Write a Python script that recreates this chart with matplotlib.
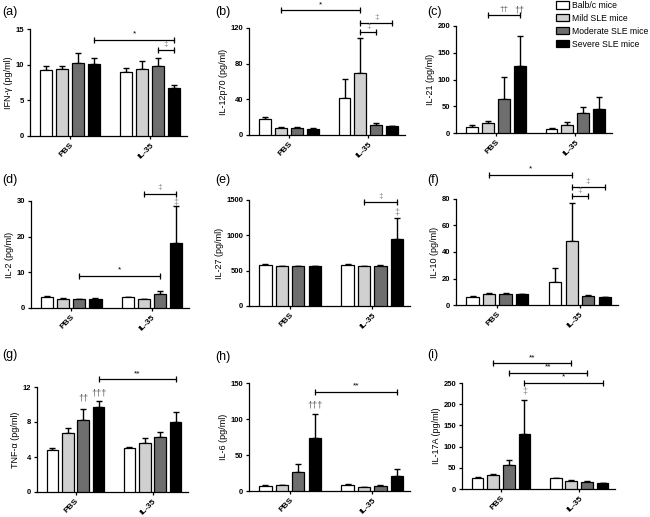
import matplotlib
matplotlib.use("Agg")
import matplotlib.pyplot as plt
from matplotlib.patches import Patch

plt.rcParams['font.family'] = ['Liberation Sans', 'DejaVu Sans']

groups = ['PBS', 'IL-35']
mice = ['Balb/c mice', 'Mild SLE mice', 'Moderate SLE mice', 'Severe SLE mice']
colors = ['white', '#d0d0d0', '#6e6e6e', 'black']

# means (PBS row, IL-35 row) and top of error bar
ifng = [[9.3, 9.4, 10.3, 10.1], [9.0, 9.4, 9.75, 6.7]]
ifng_top = [[9.8, 9.8, 11.6, 10.9], [9.5, 10.45, 10.9, 7.1]]
il12 = [[18, 7.5, 7.5, 7], [41, 69, 11, 10]]
il12_top = [[20, 8.5, 8.5, 7.8], [63, 109, 13, 10.6]]
il21 = [[12, 18, 64, 126], [8, 15, 37, 44]]
il21_top = [[15, 22, 104, 182], [9.5, 21, 49, 68]]
il2 = [[3.2, 2.6, 2.4, 2.6], [3.0, 2.4, 4.0, 18.2]]
il2_top = [[3.35, 2.75, 2.55, 2.75], [3.2, 2.55, 4.9, 28.5]]
il27 = [[580, 560, 560, 560], [580, 560, 565, 950]]
il27_top = [[590, 568, 568, 572], [590, 568, 575, 1250]]
il10 = [[6.3, 8, 8, 8], [17.2, 48.5, 6.8, 6]]
il10_top = [[6.8, 9.2, 9.0, 8.3], [28.3, 77, 7.2, 6.3]]
tnfa = [[4.85, 6.75, 8.2, 9.75], [5.0, 5.6, 6.25, 8.05]]
tnfa_top = [[5.0, 7.3, 9.5, 10.4], [5.2, 6.2, 6.9, 9.1]]
il6 = [[7, 8, 26, 74], [9, 5, 7, 21]]
il6_top = [[8, 8.6, 37, 107], [10, 5.6, 8.2, 31]]
il17 = [[26, 34, 56, 130], [25, 19, 17, 13]]
il17_top = [[28, 36, 69, 210], [27, 21, 19, 15]]

# brackets: (group, bar) start, (group, bar) end, height, label
ifng_br = [((0, 3), (1, 3), 13.5, '*'), ((1, 2), (1, 3), 12.0, '‡')]
il12_br = [((0, 1), (1, 1), 140, '*'), ((1, 1), (1, 3), 125.6, '‡'),
           ((1, 1), (1, 2), 115.5, '‡')]
il21_br = [((0, 1), (0, 3), 220, '††')]
il2_br = [((0, 2), (1, 2), 9.1, '*'), ((1, 1), (1, 3), 32.1, '‡')]
il27_br = [((1, 1), (1, 3), 1476, '‡')]
il10_br = [((0, 1), (1, 1), 98.4, '*'), ((1, 1), (1, 3), 89, '‡'),
           ((1, 1), (1, 2), 82, '‡')]
tnfa_br = [((0, 3), (1, 3), 12.9, '**')]
il6_br = [((0, 3), (1, 3), 138, '**')]
il17_br = [((0, 1), (1, 1), 296, '**'), ((0, 2), (1, 2), 274, '**'),
           ((0, 3), (1, 3), 250, '*')]

# symbols above single bars: (group, bar), height, label
il21_sym = [((0, 3), 229, '††')]
il2_sym = [((1, 3), 29.8, '‡')]
il27_sym = [((1, 3), 1335, '‡')]
tnfa_sym = [((0, 2), 10.7, '††'), ((0, 3), 11.3, '†††')]
il6_sym = [((0, 3), 120, '†††')]
il17_sym = [((0, 3), 230, '‡')]

panels = [
    ('(a)', 'IFN-γ (pg/ml)', ifng, ifng_top, 15, [0, 5, 10, 15], ifng_br, []),
    ('(b)', 'IL-12p70 (pg/ml)', il12, il12_top, 120, [0, 40, 80, 120], il12_br, []),
    ('(c)', 'IL-21 (pg/ml)', il21, il21_top, 200, [0, 50, 100, 150, 200], il21_br, il21_sym),
    ('(d)', 'IL-2 (pg/ml)', il2, il2_top, 30, [0, 10, 20, 30], il2_br, il2_sym),
    ('(e)', 'IL-27 (pg/ml)', il27, il27_top, 1500, [0, 500, 1000, 1500], il27_br, il27_sym),
    ('(f)', 'IL-10 (pg/ml)', il10, il10_top, 80, [0, 20, 40, 60, 80], il10_br, []),
    ('(g)', 'TNF-α (pg/ml)', tnfa, tnfa_top, 12, [0, 4, 8, 12], tnfa_br, tnfa_sym),
    ('(h)', 'IL-6 (pg/ml)', il6, il6_top, 150, [0, 50, 100, 150], il6_br, il6_sym),
    ('(i)', 'IL-17A (pg/ml)', il17, il17_top, 250, [0, 50, 100, 150, 200, 250], il17_br, il17_sym),
]

# axes boxes in pixels: left, right, top, bottom
boxes = [(30, 187, 29, 136), (249, 405, 28, 135), (456, 612, 26, 133),
         (31, 189, 201, 308), (249, 410, 200, 306), (456, 618, 199, 305),
         (37, 188, 387, 492), (249, 410, 383, 491), (462, 615, 383, 489)]
label_pos = [(2, 12), (215, 12), (427, 12), (2, 180), (215, 180), (427, 180),
             (2, 355), (215, 357), (427, 355)]

W, H = 650, 517
fig = plt.figure(figsize=(6.5, 5.17), dpi=100)

offs = [-0.3, -0.1, 0.1, 0.3]
width = 0.15


def xpos(gb):
    return gb[0] + offs[gb[1]]


for (plab, ylab, vals, tops, ymax, yticks, brs, syms), (l, r, t, b), (lx, ly) in zip(panels, boxes, label_pos):
    ax = fig.add_axes([l / W, 1 - b / H, (r - l) / W, (b - t) / H])
    for g in range(2):
        for k in range(4):
            x = g + offs[k]
            ax.errorbar(x, vals[g][k], yerr=[[0], [tops[g][k] - vals[g][k]]],
                        fmt='none', ecolor='black', elinewidth=1, capsize=2.5,
                        capthick=1, zorder=2)
            ax.bar(x, vals[g][k], width=width, color=colors[k],
                   edgecolor='black', linewidth=0.9, zorder=3)
    for s, e, y, txt in brs:
        x1, x2 = xpos(s), xpos(e)
        ax.plot([x1, x2], [y, y], color='black', lw=0.9, clip_on=False)
        ax.plot([x1, x2], [y, y], ls='none', marker='|', ms=5, mew=0.9,
                color='black', clip_on=False)
        c = '#888888' if txt == '‡' else ('#555555' if '†' in txt else 'black')
        ax.text((x1 + x2) / 2, y + ymax * 0.02, txt, ha='center', va='bottom',
                fontsize=6, color=c, clip_on=False)
    for gb, y, txt in syms:
        c = '#888888' if txt == '‡' else '#555555'
        ax.text(xpos(gb), y, txt, ha='center', va='center', fontsize=6.5,
                color=c, clip_on=False)
    ax.set_xlim(-0.5, 1.46)
    ax.set_ylim(0, ymax)
    ax.set_yticks(yticks)
    ax.set_xticks([0, 1])
    ax.set_xticklabels(groups, rotation=45, ha='right', rotation_mode='anchor',
                       fontsize=6, fontweight='bold')
    for tl in ax.get_yticklabels():
        tl.set_fontsize(5.5)
        tl.set_fontweight('bold')
    ax.tick_params(length=2.5, width=0.9, pad=1.5)
    ax.spines['top'].set_visible(False)
    ax.spines['right'].set_visible(False)
    ax.spines['left'].set_linewidth(0.9)
    ax.spines['bottom'].set_linewidth(0.9)
    ax.set_ylabel(ylab, fontsize=6.5, labelpad=2)
    fig.text(lx / W, 1 - ly / H, plab, fontsize=9, ha='left', va='center')

handles = [Patch(facecolor=c, edgecolor='black', linewidth=0.9) for c in colors]
fig.legend(handles, mice, loc='upper left', bbox_to_anchor=(556 / W, 1 - 1 / H),
           frameon=False, fontsize=6.2, handlelength=1.5, handleheight=0.9,
           labelspacing=0.45, borderaxespad=0, borderpad=0, handletextpad=0.4)

fig.savefig('out.png', dpi=100)
